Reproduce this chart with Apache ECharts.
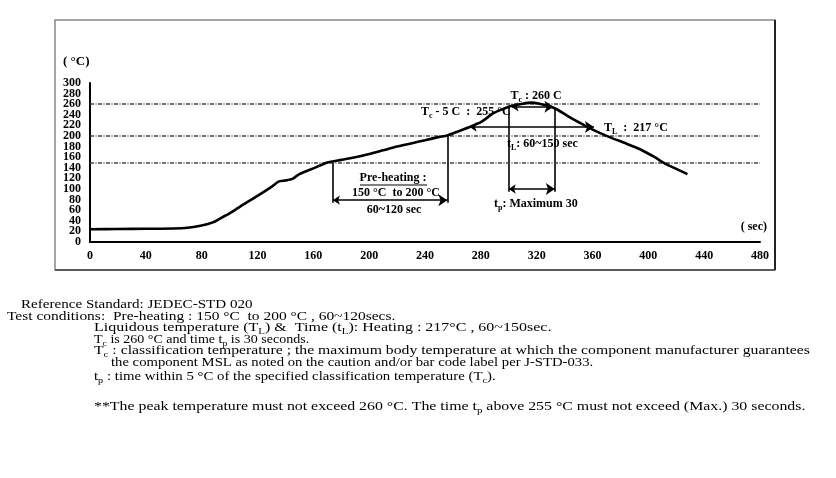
<!DOCTYPE html>
<html><head><meta charset="utf-8">
<script src="https://cdn.jsdelivr.net/npm/echarts@6/dist/echarts.min.js"></script>
<style>html,body{margin:0;padding:0;background:#fff}#c{width:836px;height:478px}</style>
</head><body><div id="c"></div>
<script>
// ---- data ----
const timeSec = [0, 20, 40, 60, 70, 80, 88, 95, 100, 110, 120, 130, 135, 140, 145, 150, 160, 170, 180, 190, 200, 210, 220, 230, 240, 250, 256, 264, 272, 280, 289, 296, 302, 310, 316, 322, 328, 334, 342, 350, 358, 366, 374, 384, 394, 404, 412, 420, 428];
const tempC   = [24, 24.5, 25, 25.5, 27, 31, 37, 47, 54, 71, 87, 104, 114, 116, 119, 128, 139, 150, 155, 160, 166, 173, 180, 186, 192, 198, 201, 209, 217, 226, 243, 251, 257, 261, 263, 261, 257, 251, 238, 226, 215, 205, 196, 186, 175, 161, 148, 138, 128];
const refTemps = [150, 200, 260];
const xTicks = [0, 40, 80, 120, 160, 200, 240, 280, 320, 360, 400, 440, 480];
const yTicks = [0, 20, 40, 60, 80, 100, 120, 140, 160, 180, 200, 220, 240, 260, 280, 300];
// annotation guides [time, temp]
const preheatStart = 174, preheatEnd = 256, preheatArrowT = 79;
const tpStart = 300, tpEnd = 333, tpArrowT = 100;
const tcArrow = [302, 332, 255];
const tlArrow = [272, 361, 217];
const guideBottom = 74, tpGuideBottom = 95, tpGuideTop = 255;

const serif = '"Liberation Serif", "DejaVu Serif", serif';
const chart = echarts.init(document.getElementById('c'), null, {renderer: 'canvas'});

function seg(a, b) { return {coords: [a, b]}; }

function txt(x, y, text, opts) {
  opts = opts || {};
  const size = opts.size || 12, weight = opts.weight || 'bold';
  const subSize = opts.subSize || Math.round(size * 0.7);
  return {
    type: 'text', x: x, y: y, silent: true, scaleX: opts.sx || 1,
    style: {
      text: text, fill: '#000',
      align: opts.align || 'left', verticalAlign: 'middle',
      fontFamily: serif, fontSize: size, fontWeight: weight,
      rich: {
        n: {fontFamily: serif, fontSize: size, fontWeight: weight, lineHeight: size + 4, fill: '#000'},
        s: {fontFamily: serif, fontSize: subSize, fontWeight: weight, lineHeight: subSize, padding: [size - subSize + 4, 0, 0, 0], fill: '#000'}
      }
    }
  };
}

const xMap = {}; xTicks.forEach(v => xMap[v] = String(v));
const yMap = {}; yTicks.forEach(v => yMap[v] = String(v));
const yEnds = [yTicks[0], yTicks[yTicks.length - 1]];

const yLabelBase = {color: '#000', fontFamily: serif, fontWeight: 'bold', fontSize: 12, margin: 9, hideOverlap: false};

const option = {
  animation: false,
  backgroundColor: '#fff',
  grid: {left: 90, right: 76, top: 83, bottom: 236, containLabel: false},
  xAxis: {
    type: 'value', min: 0, max: 480, interval: 40,
    axisLine: {show: true, lineStyle: {color: '#000', width: 2}},
    axisTick: {show: false}, splitLine: {show: false},
    axisLabel: {margin: 8, color: '#000', fontFamily: serif, fontWeight: 'bold', fontSize: 12,
      showMinLabel: true, showMaxLabel: true,
      formatter: v => xMap[v] !== undefined ? xMap[v] : ''}
  },
  yAxis: [
    {
      type: 'value', min: 0, max: 300, interval: 20, position: 'left',
      axisLine: {show: true, lineStyle: {color: '#000', width: 2}},
      axisTick: {show: false}, splitLine: {show: false},
      axisLabel: Object.assign({}, yLabelBase, {showMinLabel: true, showMaxLabel: true,
        formatter: v => yEnds.indexOf(v) >= 0 ? yMap[v] : ''})
    },
    {
      type: 'value', min: 0, max: 300, interval: 20, position: 'left', offset: 0,
      axisLine: {show: false}, axisTick: {show: false}, splitLine: {show: false},
      axisLabel: Object.assign({}, yLabelBase, {showMinLabel: false, showMaxLabel: false,
        formatter: v => (yMap[v] !== undefined && yEnds.indexOf(v) < 0) ? yMap[v] : ''})
    }
  ],
  series: [
    {
      type: 'line', data: timeSec.map((t, i) => [t, tempC[i]]),
      smooth: 0.2, symbol: 'none', z: 5,
      lineStyle: {color: '#000', width: 2.6},
      markLine: {
        silent: true, symbol: 'none', label: {show: false},
        lineStyle: {color: '#444', width: 1.5, type: [4, 1.5, 1, 1.5]},
        data: refTemps.map(v => ({yAxis: v}))
      }
    },
    {
      type: 'lines', coordinateSystem: 'cartesian2d', polyline: false, z: 4,
      symbol: 'none', lineStyle: {color: '#000', width: 1.6, opacity: 1},
      data: [
        seg([preheatStart, 150], [preheatStart, guideBottom]),
        seg([preheatEnd, 201], [preheatEnd, guideBottom]),
        seg([tpStart, tpGuideTop], [tpStart, tpGuideBottom]),
        seg([tpEnd, tpGuideTop - 3], [tpEnd, tpGuideBottom])
      ]
    },
    {
      type: 'lines', coordinateSystem: 'cartesian2d', polyline: false, z: 6,
      symbol: ['arrow', 'arrow'], symbolSize: [7, 9],
      lineStyle: {color: '#000', width: 1.6, opacity: 1},
      data: [
        seg([preheatStart, preheatArrowT], [preheatEnd, preheatArrowT]),
        seg([tpStart, tpArrowT], [tpEnd, tpArrowT]),
        seg([tcArrow[0], tcArrow[2]], [tcArrow[1], tcArrow[2]]),
        seg([tlArrow[0], tlArrow[2]], [tlArrow[1], tlArrow[2]])
      ]
    }
  ],
  graphic: [
    {type: 'rect', silent: true, shape: {x: 55, y: 20, width: 720, height: 250},
      style: {fill: 'none', stroke: '#888', lineWidth: 1.5}},
    {type: 'line', silent: true, shape: {x1: 775, y1: 20, x2: 775, y2: 270}, style: {stroke: '#222', lineWidth: 2}},
    {type: 'line', silent: true, shape: {x1: 55, y1: 270, x2: 775, y2: 270}, style: {stroke: '#444', lineWidth: 1.5}},
    txt(63, 62, '( °C)', {size: 13}),
    txt(767, 227, '( sec)', {align: 'right'}),
    txt(393, 178, 'Pre-heating :', {align: 'center'}),
    {type: 'line', silent: true, shape: {x1: 360, y1: 185, x2: 427, y2: 185}, style: {stroke: '#000', lineWidth: 1}},
    txt(396, 193, '150 °C  to 200 °C', {align: 'center'}),
    txt(394, 210, '60~120 sec', {align: 'center'}),
    txt(536, 96, '{n|T}{s|c}{n| : 260 C}', {align: 'center'}),
    txt(421, 112, '{n|T}{s|c}{n| - 5 C  :  255 °C}'),
    txt(604, 128, '{n|T}{s|L}{n|  :  217 °C}'),
    txt(507, 144, '{n|t}{s|L}{n|: 60~150 sec}'),
    txt(494, 204, '{n|t}{s|p}{n|: Maximum 30}'),
    // notes below the chart
    txt(21, 305, 'Reference Standard: JEDEC-STD 020', {weight: 'normal', size: 13, sx: 1.16}),
    txt(7, 317, 'Test conditions:  Pre-heating : 150 °C  to 200 °C , 60~120secs.', {weight: 'normal', size: 13, sx: 1.19}),
    txt(94, 328, '{n|Liquidous temperature (T}{s|L}{n|) &  Time (t}{s|L}{n|): Heating : 217°C , 60~150sec.}', {weight: 'normal', size: 13, sx: 1.23}),
    txt(94, 340, '{n|T}{s|c}{n| is 260 °C and time t}{s|p}{n| is 30 seconds.}', {weight: 'normal', size: 13, sx: 1.08}),
    txt(94, 351, '{n|T}{s|c}{n| : classification temperature ; the maximum body temperature at which the component manufacturer guarantees}', {weight: 'normal', size: 13, sx: 1.21}),
    txt(111, 363, 'the component MSL as noted on the caution and/or bar code label per J-STD-033.', {weight: 'normal', size: 13, sx: 1.13}),
    txt(94, 377, '{n|t}{s|p}{n| : time within 5 °C of the specified classification temperature (T}{s|c}{n|).}', {weight: 'normal', size: 13, sx: 1.14}),
    txt(94, 407, '{n|**The peak temperature must not exceed 260 °C. The time t}{s|p}{n| above 255 °C must not exceed (Max.) 30 seconds.}', {weight: 'normal', size: 13, sx: 1.22})
  ]
};
chart.setOption(option);
</script>
</body></html>
